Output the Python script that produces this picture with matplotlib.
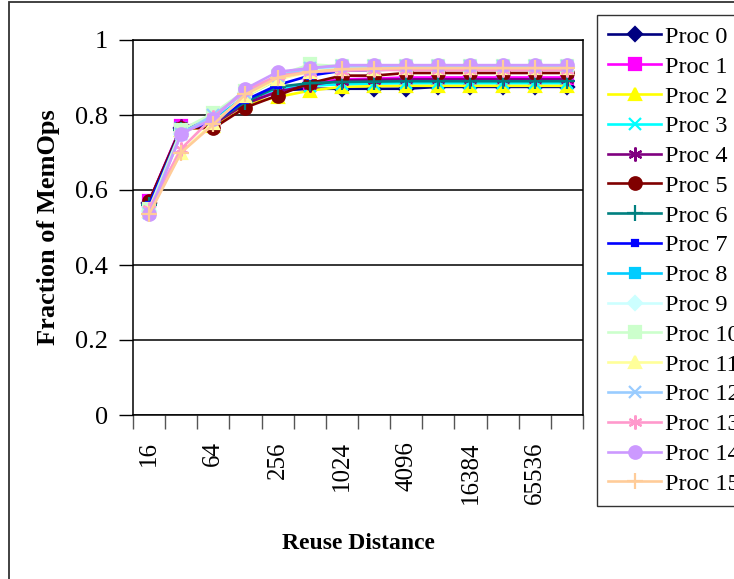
import matplotlib
matplotlib.use('Agg')
import matplotlib.pyplot as plt
from matplotlib.patches import Rectangle

plt.rcParams['font.family'] = ['Liberation Serif', 'DejaVu Serif']

# reuse distance categories (only every other one is labelled)
distances = [16, 32, 64, 128, 256, 512, 1024, 2048, 4096, 8192, 16384, 32768, 65536, 131072]

proc0 = [0.565, 0.765, 0.775, 0.835, 0.865, 0.870, 0.870, 0.870, 0.870, 0.875, 0.875, 0.875, 0.875, 0.875]
proc1 = [0.570, 0.770, 0.780, 0.840, 0.865, 0.885, 0.895, 0.897, 0.900, 0.900, 0.900, 0.900, 0.900, 0.900]
proc2 = [0.560, 0.760, 0.770, 0.830, 0.848, 0.865, 0.875, 0.877, 0.878, 0.878, 0.878, 0.878, 0.878, 0.878]
proc3 = [0.555, 0.765, 0.780, 0.840, 0.870, 0.878, 0.882, 0.884, 0.885, 0.885, 0.885, 0.885, 0.885, 0.885]
proc4 = [0.568, 0.770, 0.775, 0.830, 0.862, 0.880, 0.892, 0.894, 0.895, 0.895, 0.895, 0.895, 0.895, 0.895]
proc5 = [0.570, 0.765, 0.765, 0.820, 0.852, 0.885, 0.905, 0.905, 0.912, 0.912, 0.912, 0.912, 0.912, 0.912]
proc6 = [0.560, 0.760, 0.780, 0.835, 0.875, 0.885, 0.888, 0.889, 0.890, 0.890, 0.890, 0.890, 0.890, 0.890]
proc7 = [0.560, 0.760, 0.780, 0.840, 0.880, 0.905, 0.918, 0.920, 0.922, 0.922, 0.922, 0.922, 0.922, 0.922]
proc8 = [0.540, 0.755, 0.790, 0.850, 0.895, 0.920, 0.928, 0.929, 0.930, 0.930, 0.930, 0.930, 0.930, 0.930]
proc9 = [0.545, 0.750, 0.795, 0.860, 0.900, 0.920, 0.927, 0.928, 0.928, 0.928, 0.928, 0.928, 0.928, 0.928]
proc10 = [0.550, 0.760, 0.805, 0.865, 0.905, 0.935, 0.930, 0.930, 0.930, 0.930, 0.930, 0.930, 0.930, 0.930]
proc11 = [0.545, 0.700, 0.780, 0.850, 0.895, 0.915, 0.922, 0.924, 0.925, 0.925, 0.925, 0.925, 0.925, 0.925]
proc12 = [0.540, 0.750, 0.800, 0.860, 0.905, 0.925, 0.930, 0.930, 0.930, 0.930, 0.930, 0.930, 0.930, 0.930]
proc13 = [0.550, 0.710, 0.795, 0.865, 0.905, 0.915, 0.918, 0.920, 0.920, 0.920, 0.920, 0.920, 0.920, 0.920]
proc14 = [0.535, 0.750, 0.790, 0.870, 0.915, 0.925, 0.933, 0.933, 0.933, 0.933, 0.933, 0.933, 0.933, 0.933]
proc15 = [0.535, 0.700, 0.775, 0.855, 0.900, 0.915, 0.922, 0.924, 0.925, 0.925, 0.925, 0.925, 0.925, 0.925]

allProcs = [proc0, proc1, proc2, proc3, proc4, proc5, proc6, proc7,
            proc8, proc9, proc10, proc11, proc12, proc13, proc14, proc15]

# excel default series colours / markers
colorList = ['#000080', '#FF00FF', '#FFFF00', '#00FFFF', '#800080', '#800000', '#008080', '#0000FF',
             '#00CCFF', '#CCFFFF', '#CCFFCC', '#FFFF99', '#99CCFF', '#FF99CC', '#CC99FF', '#FFCC99']
asterisk = (6, 2, 0)
markerList = ['D', 's', '^', 'x', asterisk, 'o', '+', 's',
              's', 'D', 's', '^', 'x', asterisk, 'o', '+']
sizeList = [7, 8, 9, 9, 10, 9, 12, 5, 7, 7, 8, 9, 9, 10, 9, 12]

fig = plt.figure(figsize=(7.34, 5.79), dpi=100)
ax = fig.add_axes([133/734, 1-415/579, 450/734, 375/579])

xpos = list(range(len(distances)))
for i in range(len(allProcs)):
    ax.plot(xpos, allProcs[i], color=colorList[i], marker=markerList[i],
            markersize=sizeList[i], lw=1.9, mew=1.6, label='Proc %d' % i, clip_on=False)

ax.set_xlim(-0.5, len(distances)-0.5)
ax.set_ylim(0, 1)
ax.set_yticks([0, 0.2, 0.4, 0.6, 0.8, 1])
ax.set_yticklabels(['0', '0.2', '0.4', '0.6', '0.8', '1'], fontsize=19)
ax.yaxis.grid(True, color='black', lw=1.1)
ax.set_axisbelow(True)
ax.tick_params(axis='y', length=10, width=1, pad=8)

ax.set_xticks(xpos[::2])
ax.set_xticklabels([str(d) for d in distances[::2]], rotation=90, fontsize=18)
ax.set_xticks([p - 0.5 for p in range(len(distances)+1)], minor=True)
ax.tick_params(axis='x', which='major', length=0, pad=19)
ax.tick_params(axis='x', which='minor', length=10, width=1, color='#555555')
for s in ax.spines.values():
    s.set_linewidth(1.1)

ax.set_ylabel('Fraction of MemOps', fontsize=19, fontweight='bold', labelpad=11)
ax.set_xlabel('Reuse Distance', fontsize=17, fontweight='bold', labelpad=21)

leg = ax.legend(loc='upper left', bbox_to_anchor=(597/734, 1-15/579), bbox_transform=fig.transFigure,
                fontsize=17.5, frameon=True, fancybox=False, handlelength=2.2, handletextpad=0.15,
                labelspacing=0.32, borderpad=0.45, borderaxespad=0)
leg.get_frame().set_edgecolor('black')
leg.get_frame().set_linewidth(1.0)

# chart area border (cropped on the right and bottom)
fig.patches.append(Rectangle((9/734, -0.1), 1.2, 1.1-2/579, transform=fig.transFigure,
                             fill=False, edgecolor='#333333', lw=1.3))

fig.savefig('out.png', dpi=100)
